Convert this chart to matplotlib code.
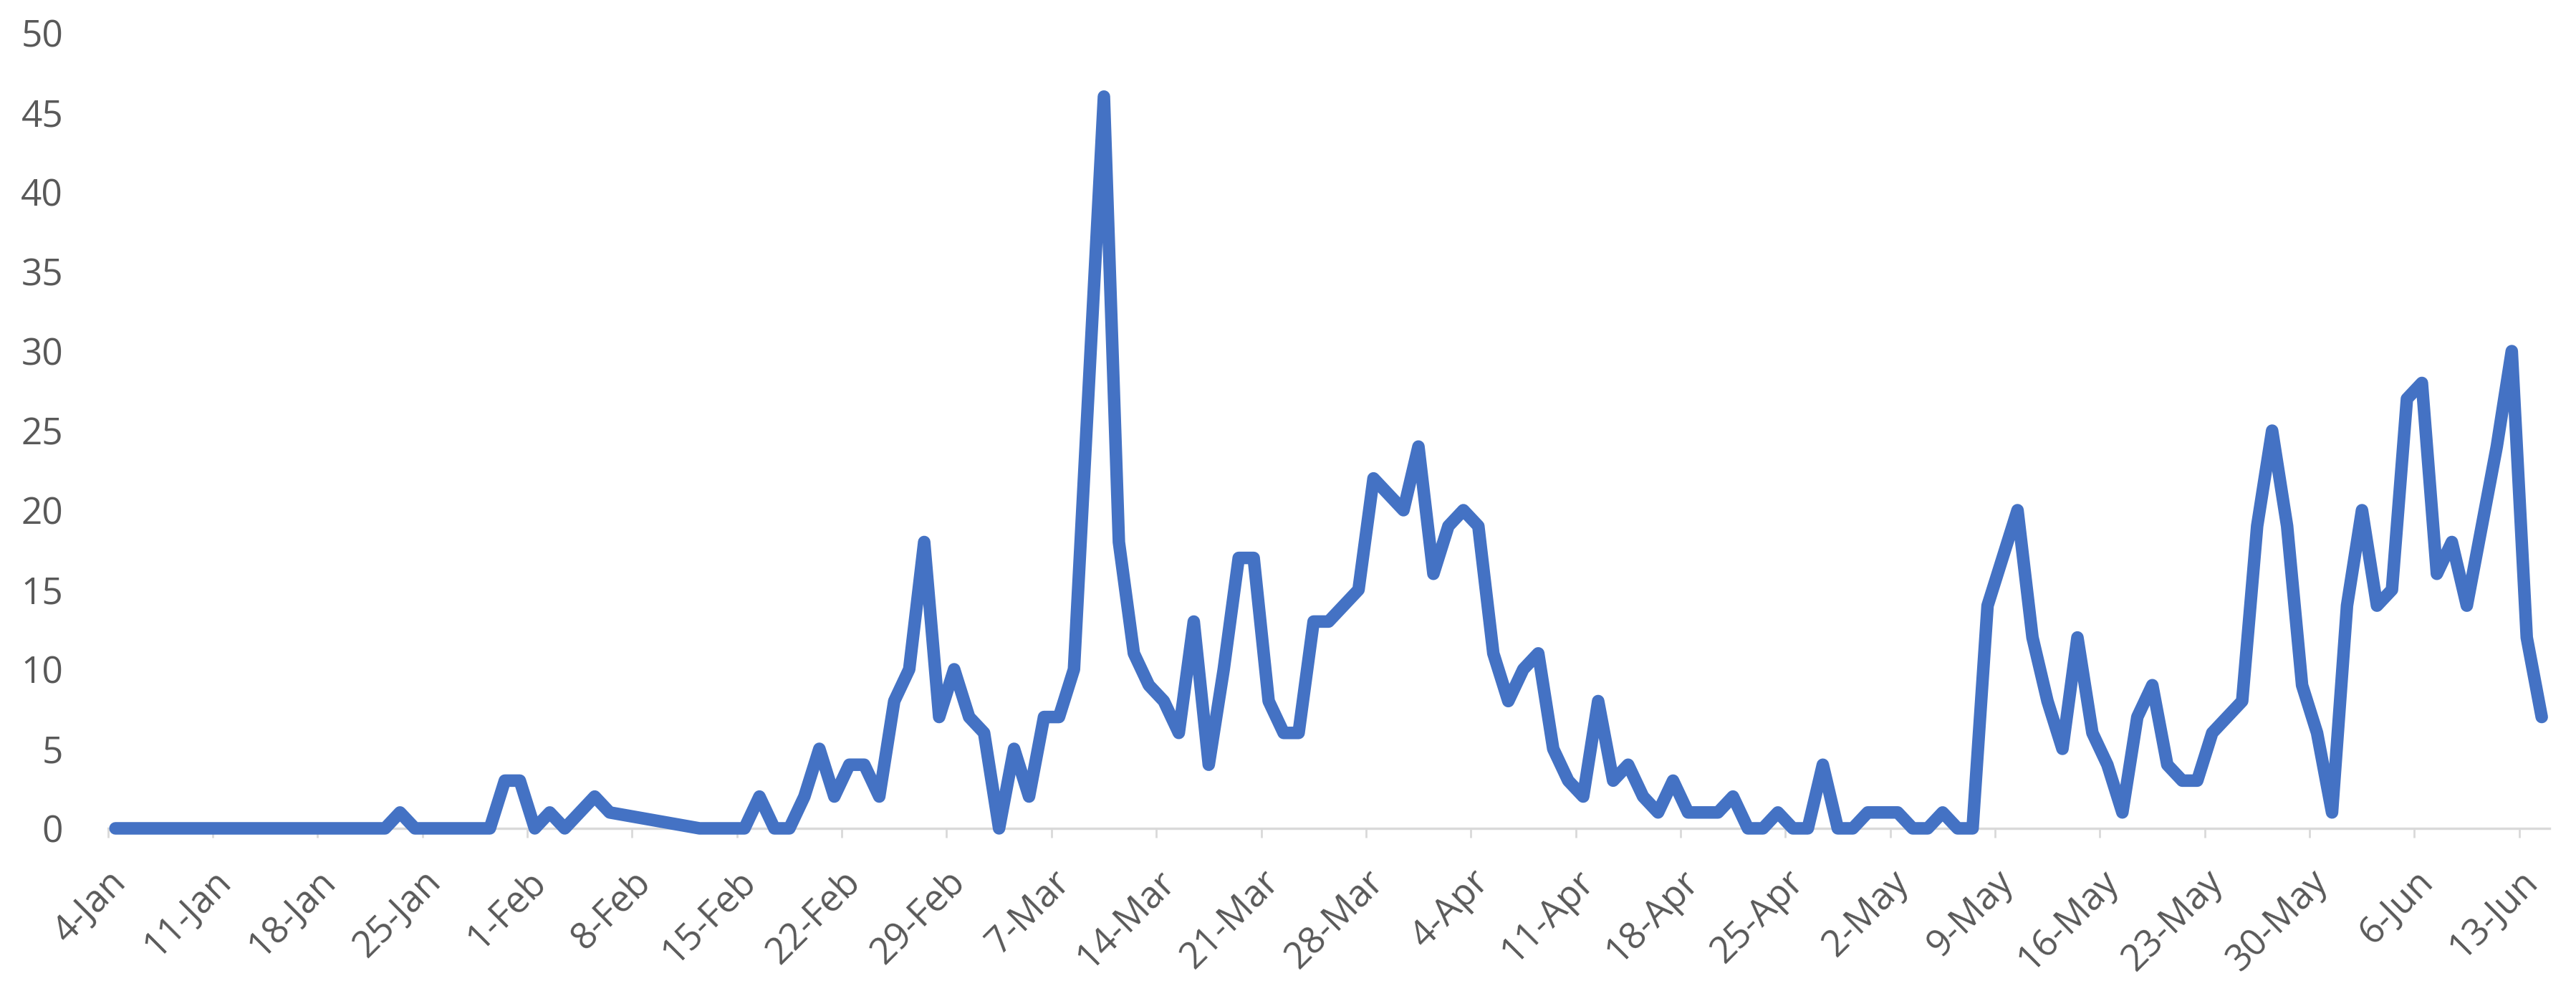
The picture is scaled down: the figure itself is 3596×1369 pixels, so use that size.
import matplotlib
matplotlib.use("Agg")
import matplotlib.pyplot as plt
import matplotlib.transforms as mtransforms
import pandas as pd

# ---------------- data ----------------
start_date = "2020-01-04"
end_date = "2020-06-14"

# one value per day from 4-Jan to 14-Jun; None = no data for that day
jan_values = [0, 0, 0, 0, 0, 0, 0, 0, 0, 0, 0, 0, 0, 0, 0, 0, 0, 0, 0,   # 4-22 Jan
              1, 0, 0, 0, 0, 0, 0, 3, 3]                                   # 23-31 Jan
feb_values = [0, 1, 0, 1, 2, 1, None, None, None, None, None, 0, 0, 0, 0,  # 1-15 Feb
              2, 0, 0, 2, 5, 2, 4, 4, 2, 8, 10, 18, 7, 10]                 # 16-29 Feb
mar_values = [7, 6, 0, 5, 2, 7, 7, 10, 28, 46, 18, 11, 9, 8, 6, 13,      # 1-16 Mar
              4, 10, 17, 17, 8, 6, 6, 13, 13, 14, 15, 22, 21, 20, 24]      # 17-31 Mar
apr_values = [16, 19, 20, 19, 11, 8, 10, 11, 5, 3, 2, 8, 3, 4, 2,         # 1-15 Apr
              1, 3, 1, 1, 1, 2, 0, 0, 1, 0, 0, 4, 0, 0, 1]                 # 16-30 Apr
may_values = [1, 1, 0, 0, 1, 0, 0, 14, 17, 20, 12, 8, 5, 12, 6, 4,       # 1-16 May
              1, 7, 9, 4, 3, 3, 6, 7, 8, 19, 25, 19, 9, 6, 1]              # 17-31 May
jun_values = [14, 20, 14, 15, 27, 28, 16, 18, 14, 19, 24, 30, 12, 7]      # 1-14 Jun

tick_labels = ["4-Jan", "11-Jan", "18-Jan", "25-Jan", "1-Feb", "8-Feb",
               "15-Feb", "22-Feb", "29-Feb", "7-Mar", "14-Mar", "21-Mar",
               "28-Mar", "4-Apr", "11-Apr", "18-Apr", "25-Apr", "2-May",
               "9-May", "16-May", "23-May", "30-May", "6-Jun", "13-Jun"]
y_ticks = [0, 5, 10, 15, 20, 25, 30, 35, 40, 45, 50]

# ---------------- build series ----------------
values = jan_values + feb_values + mar_values + apr_values + may_values + jun_values
days = pd.date_range(start_date, end_date, freq="D")
keep = [v is not None for v in values]
x = days[keep] + pd.Timedelta(hours=12)
y = [v for v in values if v is not None]

plt.rcParams["font.family"] = ["Open Sans", "DejaVu Sans"]

DPI = 200
fig = plt.figure(figsize=(3596 / DPI, 1369 / DPI), dpi=DPI)
ax = fig.add_axes([0.0419, 0.1556, 0.9896 - 0.0419, 0.9664 - 0.1556])

ax.plot(x, y, color="#4472C4", lw=6.3, solid_joinstyle="round",
        solid_capstyle="round", clip_on=False, zorder=3)

ax.set_xlim(pd.Timestamp("2020-01-04"), pd.Timestamp("2020-06-15"))
ax.set_ylim(0, 50)

for s in ["left", "right", "top"]:
    ax.spines[s].set_visible(False)
ax.spines["bottom"].set_color("#D9D9D9")
ax.spines["bottom"].set_linewidth(1.2)
ax.spines["bottom"].set_zorder(1)

tick_dates = pd.date_range("2020-01-04", periods=len(tick_labels), freq="7D")
ax.set_xticks(tick_dates)
ax.set_xticklabels([""] * len(tick_labels))
ax.tick_params(axis="x", length=4.7, width=1.0, color="#D9D9D9", direction="out")

label_color = "#595959"
offset = mtransforms.ScaledTranslation(18 / DPI, -67 / DPI, fig.dpi_scale_trans)
for d, lab in zip(tick_dates, tick_labels):
    ax.text(d, 0, lab, transform=ax.get_xaxis_transform() + offset,
            rotation=45, rotation_mode="anchor", ha="right", va="center",
            fontsize=18.5, color=label_color)

ax.set_yticks(y_ticks)
ax.set_yticklabels([str(v) for v in y_ticks])
ax.tick_params(axis="y", length=0, pad=22.5, labelsize=18.5, labelcolor=label_color)

fig.savefig("out.png", dpi=DPI, facecolor="white")
